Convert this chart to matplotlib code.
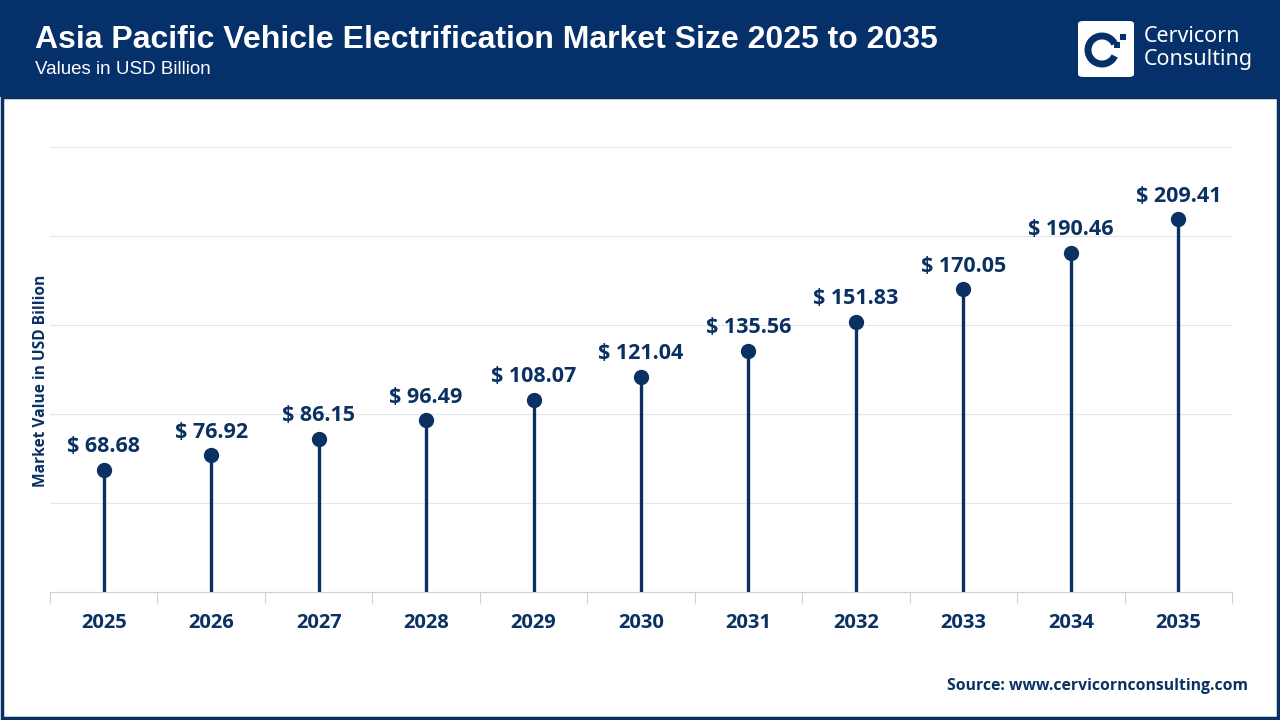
import matplotlib
matplotlib.use('Agg')
import matplotlib.pyplot as plt
from matplotlib.patches import Rectangle, FancyBboxPatch, Arc

years = ['2025', '2026', '2027', '2028', '2029', '2030',
         '2031', '2032', '2033', '2034', '2035']
values = [68.68, 76.92, 86.15, 96.49, 108.07, 121.04,
          135.56, 151.83, 170.05, 190.46, 209.41]

navy = '#0b3163'
W, H = 1280, 720

fig = plt.figure(figsize=(12.8, 7.2), dpi=100)

# header band and frame
fig.patches.append(Rectangle((0, 1 - 97 / H), 1, 97 / H, transform=fig.transFigure,
                             facecolor='#06306a', edgecolor='none', zorder=0))
fig.patches.append(Rectangle((1.5 / W, 2 / H), 1 - 4 / W, 1 - 99 / H, transform=fig.transFigure,
                             facecolor='none', edgecolor=navy, linewidth=2.5, zorder=0))

fig.text(35 / W, 1 - 40 / H, 'Asia Pacific Vehicle Electrification Market Size 2025 to 2035',
         family='Liberation Sans', weight='bold', fontsize=23, color='white', va='center')
fig.text(35 / W, 1 - 70 / H, 'Values in USD Billion', family='Liberation Sans',
         fontsize=13.5, color='white', va='center')

# logo
fig.patches.append(FancyBboxPatch((1078 / W, 1 - 77 / H), 56 / W, 56 / H, transform=fig.transFigure,
                                  boxstyle='round,pad=0,rounding_size=0.004',
                                  facecolor='white', edgecolor='none'))
fig.patches.append(Arc((1102 / W, 1 - 50 / H), 28 / W, 28 / H, theta1=40, theta2=320,
                       transform=fig.transFigure, color='#06306a', linewidth=5))
fig.patches.append(Rectangle((1120 / W, 1 - 40 / H), 6 / W, 6 / H, transform=fig.transFigure,
                             facecolor='#06306a', edgecolor='none'))
fig.patches.append(Rectangle((1114 / W, 1 - 48 / H), 6 / W, 6 / H, transform=fig.transFigure,
                             facecolor='#06306a', edgecolor='none'))
fig.text(1144 / W, 1 - 37 / H, 'Cervicorn', family='Noto Sans', fontsize=15.5,
         color='white', va='center')
fig.text(1144 / W, 1 - 59 / H, 'Consulting', family='Noto Sans', fontsize=15.5,
         color='white', va='center')

# chart
ax = fig.add_axes([50 / W, 1 - 592 / H, 1182 / W, 445 / H])
x = list(range(len(years)))
ax.vlines(x, 0, values, color=navy, linewidth=2.4, zorder=3)
ax.plot(x, values, 'o', color=navy, markersize=10, zorder=4)
for xi, v in zip(x, values):
    ax.annotate(f'$ {v:.2f}', (xi, v), xytext=(0, 9), textcoords='offset points',
                ha='center', va='bottom', family='Open Sans', weight='bold',
                fontsize=15.5, color=navy)

ax.set_xlim(-0.5, len(years) - 0.5)
ax.set_ylim(0, 250)
ax.set_yticks([0, 50, 100, 150, 200, 250])
ax.yaxis.grid(True, color='#e6e6e6', linewidth=0.8)
ax.set_axisbelow(True)
ax.tick_params(axis='y', left=False, labelleft=False)
ax.set_xticks([i - 0.5 for i in range(len(years) + 1)], minor=False)
ax.set_xticklabels([])
ax.set_xticks(x, minor=True)
ax.set_xticklabels(years, minor=True)
ax.tick_params(axis='x', which='major', length=8, color='#d0d0d0', width=0.8)
ax.tick_params(axis='x', which='minor', length=0, pad=15, labelsize=14.5, labelcolor=navy)
for lab in ax.get_xticklabels(minor=True):
    lab.set_family('Open Sans')
    lab.set_weight('bold')
for s in ['top', 'right', 'left']:
    ax.spines[s].set_visible(False)
ax.spines['bottom'].set_color('#d0d0d0')

fig.text(41 / W, 1 - 381 / H, 'Market Value in USD Billion', rotation=90, family='Open Sans',
         weight='bold', fontsize=11.2, color=navy, ha='center', va='center')

fig.text(1248 / W, 1 - 686 / H, 'Source: www.cervicornconsulting.com', family='Open Sans',
         weight='bold', fontsize=11.3, color=navy, ha='right', va='center')

fig.savefig('out.png', dpi=100)
